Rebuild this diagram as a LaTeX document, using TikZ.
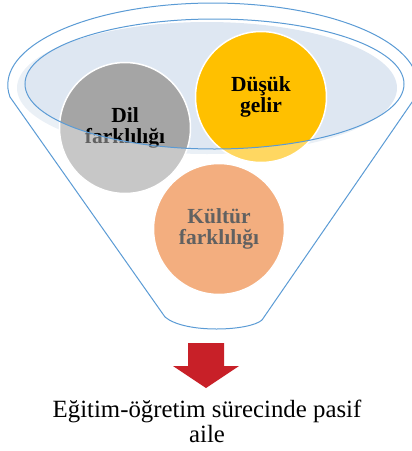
\documentclass[tikz,border=0pt]{standalone}
\usepackage{fontspec}
\setmainfont{Liberation Serif}
\usepackage{tikz}
\usetikzlibrary{positioning}

\definecolor{funnelblue}{RGB}{91,155,213}
\definecolor{rimfill}{RGB}{222,231,242}
\definecolor{dilgray}{RGB}{165,165,165}
\definecolor{gelirgold}{RGB}{255,192,0}
\definecolor{kulturorange}{RGB}{237,125,49}
\definecolor{arrowred}{RGB}{200,32,40}

\begin{document}
\begin{tikzpicture}
      [ x=1pt, y=-1pt,
        ball/.style={circle, draw=white, line width=1.5pt, minimum size=131pt,
                     inner sep=0pt, align=center,
                     font=\fontsize{21.5}{21}\selectfont\bfseries},
        rim/.style={draw=funnelblue, line width=1pt}
      ]
      \clip (0,0) rectangle (412,451);

      % back of the funnel
      \fill[rimfill] (207,88) ellipse [x radius=190, y radius=66];

      \node[ball, fill=dilgray]      (dil)    at (125,128) {Dil\\farklılığı};
      \node[ball, fill=gelirgold]    (gelir)  at (261,97)  {Düşük\\gelir};
      \node[ball, fill=kulturorange] (kultur) at (219,229) {Kültür\\farklılığı};

      % veil below the rim
      \fill[white, fill opacity=0.38, even odd rule]
            (0,0) rectangle (412,340)
            (214.5,84) ellipse [x radius=189.5, y radius=65];
      \draw[rim] (214.5,84) ellipse [x radius=189.5, y radius=65];

      % funnel outline
      \draw[rim] (10,97) arc [start angle=171.6, end angle=368.4,
                              x radius=205, y radius=82]
                 -- (262,320) .. controls (250,331) and (185,334) .. (165,317)
                 -- cycle;

      \fill[arrowred] (188,343) -- (224,343) -- (224,366) -- (239,366)
                      -- (206,388) -- (173,366) -- (188,366) -- cycle;

      \node[font=\fontsize{24.8}{25}\selectfont, align=center,
            anchor=north, inner sep=0pt] (caption) at (207,400)
            {Eğitim-öğretim sürecinde pasif\\aile};
    \end{tikzpicture}
\end{document}
